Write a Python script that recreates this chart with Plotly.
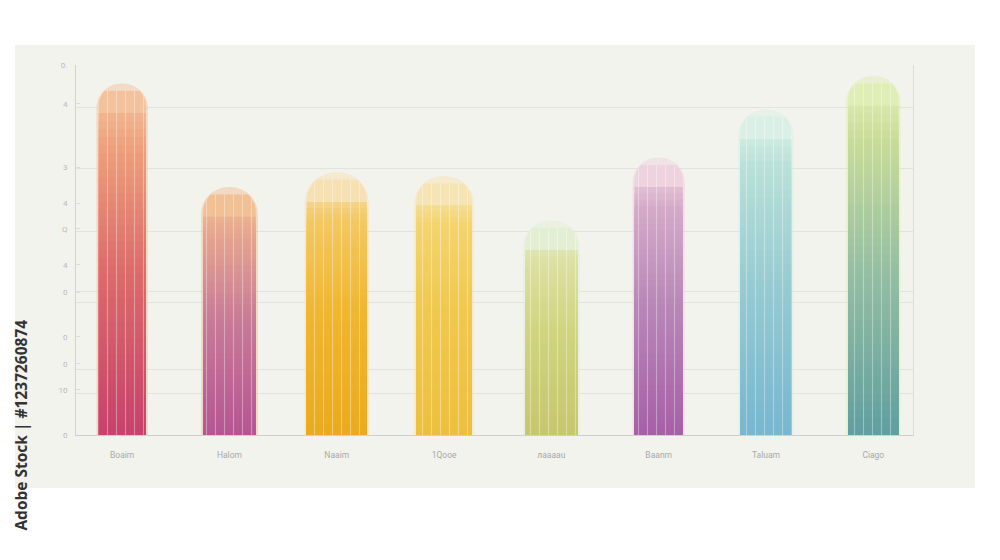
import plotly.graph_objects as go

# ---------------- data ----------------
categories = ["Boaim", "Halom", "Naaim", "1Qooe", "лaaaau", "Baanm", "Taluam", "Ciago"]
values = [9.3, 6.5, 6.9, 6.8, 5.6, 7.3, 8.6, 9.5]

ytick_vals = [0.0, 1.22, 1.92, 2.65, 3.86, 4.6, 5.57, 6.27, 7.24, 8.95, 10.0]
ytick_text = ["0", "10", "0", "0", "0", "4", "Q", "4", "3", "4", "0."]
grid_vals = [1.11, 1.78, 3.57, 3.89, 5.51, 7.19, 8.84]

# ---------------- style ----------------
# gradient stops per bar: bottom, mid, upper, top
grad_stops = [0.0, 0.5, 0.85, 1.0]
bar_grad = [
    ["#c6406c", "#dc6c6a", "#eea07c", "#f3c29c"],
    ["#b45492", "#c87c98", "#e6a68e", "#f1c094"],
    ["#ebaa1e", "#f0b630", "#f3c862", "#f7e0b2"],
    ["#eebf3e", "#f0c84e", "#f4d470", "#f7e4b4"],
    ["#c6c66e", "#d0d47e", "#dce0a2", "#e2efd2"],
    ["#a65ea6", "#b888b8", "#d4aac8", "#eed2de"],
    ["#76b6d0", "#98ccd2", "#b8e0d8", "#daf0e6"],
    ["#5e9ea0", "#98c0a2", "#c8dc98", "#dfeeb4"],
]
bar_widths = [0.44, 0.49, 0.56, 0.52, 0.49, 0.45, 0.48, 0.47]
N_SLICES = 40
CAP = 0.6


def hex2rgb(h):
    h = h.lstrip("#")
    return [int(h[i:i + 2], 16) for i in (0, 2, 4)]


def grad_color(stops_cols, f):
    cols = [hex2rgb(c) for c in stops_cols]
    for i in range(len(grad_stops) - 1):
        a, b = grad_stops[i], grad_stops[i + 1]
        if f <= b or i == len(grad_stops) - 2:
            t = 0 if b == a else min(max((f - a) / (b - a), 0), 1)
            c = [round(cols[i][j] + (cols[i + 1][j] - cols[i][j]) * t) for j in range(3)]
            return "rgb(%d,%d,%d)" % tuple(c)


def rgba(h, a):
    r, g, b = hex2rgb(h)
    return "rgba(%d,%d,%d,%.2f)" % (r, g, b, a)


fig = go.Figure()

# halo behind each bar
fig.add_trace(go.Bar(
    x=categories, y=[v + 0.2 for v in values],
    width=[w + 0.04 for w in bar_widths],
    marker=dict(color=[rgba(g[3], 0.5) for g in bar_grad], line_width=0, cornerradius="48%"),
    hoverinfo="skip", showlegend=False,
))
# full rounded bar in top colour
fig.add_trace(go.Bar(
    x=categories, y=values, width=bar_widths,
    marker=dict(color=[g[3] for g in bar_grad], line_width=0, cornerradius="48%"),
    showlegend=False,
))
# gradient layers
for k in range(N_SLICES):
    frac = 1 - k / N_SLICES
    ys = [(v - CAP) * frac for v in values]
    cols = [grad_color(bar_grad[i], ys[i] / values[i]) for i in range(len(values))]
    fig.add_trace(go.Bar(
        x=categories, y=ys, width=bar_widths,
        marker=dict(color=cols, line_width=0),
        hoverinfo="skip", showlegend=False,
    ))
# light vertical streaks
fig.add_trace(go.Bar(
    x=categories, y=values, width=bar_widths,
    marker=dict(color="rgba(0,0,0,0)", line_width=0, cornerradius="48%",
                pattern=dict(shape="|", fillmode="overlay", fgcolor="white",
                             fgopacity=0.35, size=9, solidity=0.12)),
    hoverinfo="skip", showlegend=False,
))

# invisible trace for right axis / grid
fig.add_trace(go.Scatter(x=[categories[0]], y=[0], yaxis="y2", mode="markers",
                         marker=dict(opacity=0), hoverinfo="skip", showlegend=False))

fig.update_layout(
    width=1000, height=560,
    margin=dict(l=68, r=95, t=57, b=133),
    paper_bgcolor="white",
    plot_bgcolor="#f8f8f5",
    barmode="overlay",
    bargap=0.5,
    font=dict(family="Roboto, Arial, sans-serif", color="#b0b0b0"),
    xaxis=dict(
        type="category", range=[-0.43, 7.37],
        showgrid=False, showline=True, linecolor="#cfcfcf", linewidth=1,
        ticks="", tickfont=dict(size=8.5, color="#a8a8a8"),
        ticklabelstandoff=12, zeroline=False,
    ),
    yaxis=dict(
        range=[0, 10], showgrid=False, zeroline=False,
        showline=True, linecolor="#d2d2d2", linewidth=1,
        tickmode="array", tickvals=ytick_vals, ticktext=ytick_text,
        ticks="inside", ticklen=4, tickcolor="#dcdcdc",
        tickfont=dict(size=8, color="#b8b8b8"), ticklabelstandoff=6,
    ),
    yaxis2=dict(
        range=[0, 10], overlaying="y", side="right",
        showline=True, linecolor="#dcdcdc", linewidth=1,
        tickmode="array", tickvals=grid_vals, showticklabels=False, ticks="",
        showgrid=True, gridcolor="#e2e2de", gridwidth=1, zeroline=False,
    ),
    shapes=[dict(type="rect", xref="paper", yref="paper", layer="below",
                 x0=-0.073, x1=1.074, y0=-0.143, y1=1.054,
                 fillcolor="#f3f3ee", line_width=0)],
    annotations=[dict(text="<b>Adobe Stock | #1237260874</b>", textangle=-90,
                      xref="paper", yref="paper",
                      x=-0.0657, y=0.316, xanchor="center", yanchor="top",
                      showarrow=False, font=dict(size=15.5, color="#333333",
                                                 family="Open Sans, Arial, sans-serif"))],
)

fig.write_html("out.html")
